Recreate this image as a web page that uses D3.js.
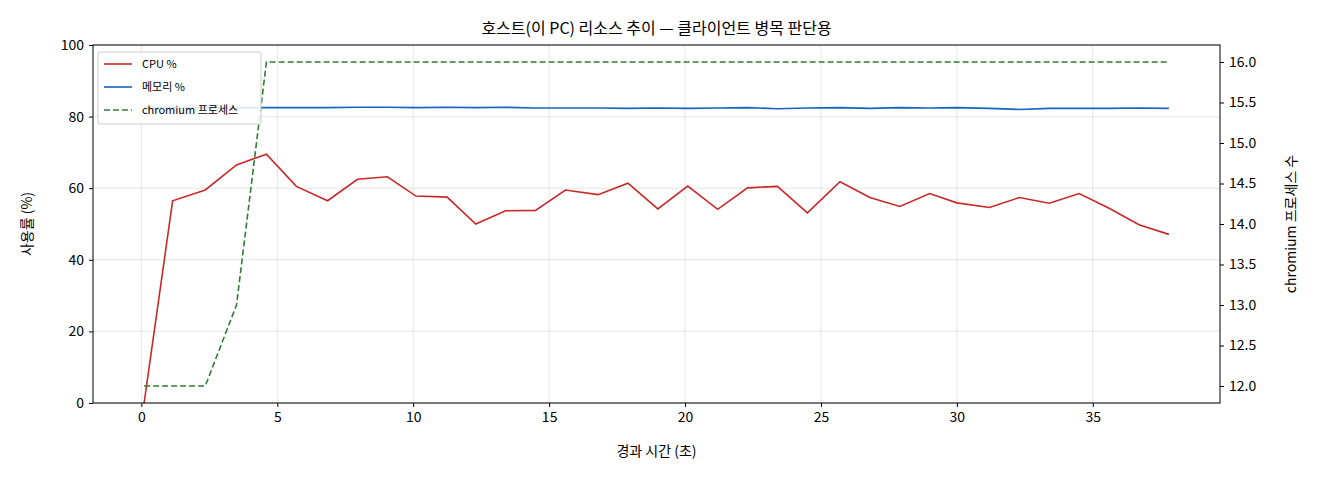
<!DOCTYPE html><html><head><meta charset="utf-8">
<script src="https://cdn.jsdelivr.net/npm/d3@7"></script>
<style>body{margin:0;background:#fff}text{font-family:"Noto Sans CJK KR","DejaVu Sans",sans-serif}</style></head><body>
<svg id="c" width="1320" height="480"></svg>
<script>
const times=[0.1,1.15,2.35,3.5,4.6,5.7,6.85,7.95,9.05,10.1,11.25,12.3,13.4,14.5,15.6,16.8,17.9,19.0,20.1,21.2,22.3,23.4,24.5,25.7,26.8,27.9,29.0,30.0,31.2,32.3,33.4,34.5,35.6,36.7,37.8];
const cpu=[0,56.5,59.5,66.5,69.5,60.5,56.5,62.5,63.2,57.8,57.5,50,53.7,53.8,59.5,58.2,61.4,54.2,60.6,54.1,60.1,60.5,53.1,61.8,57.4,54.9,58.5,55.9,54.6,57.4,55.8,58.5,54.4,49.8,47.1];
const mem=[82.5,82.5,82.5,82.5,82.5,82.5,82.5,82.6,82.6,82.5,82.6,82.5,82.6,82.4,82.4,82.4,82.3,82.4,82.3,82.4,82.5,82.2,82.4,82.5,82.3,82.5,82.4,82.5,82.3,82.0,82.3,82.3,82.3,82.4,82.3];
const procs=[12,12,12,13,16,16,16,16,16,16,16,16,16,16,16,16,16,16,16,16,16,16,16,16,16,16,16,16,16,16,16,16,16,16,16];
const xTicks=[0,5,10,15,20,25,30,35],yTicks=[0,20,40,60,80,100],y2Ticks=[12,12.5,13,13.5,14,14.5,15,15.5,16];
const L=93,R=1220,T=45,B=403;
const svg=d3.select("#c");
const x=d3.scaleLinear().domain([-1.78,39.68]).range([L,R]);
const y=d3.scaleLinear().domain([0,100]).range([B,T]);
const y2=d3.scaleLinear().domain([11.79,16.21]).range([B,T]);
const g=svg.append("g");
g.selectAll(".gx").data(xTicks).join("line").attr("x1",d=>x(d)).attr("x2",d=>x(d)).attr("y1",T).attr("y2",B).attr("stroke","#000").attr("stroke-opacity",0.1);
g.selectAll(".gy").data(yTicks).join("line").attr("y1",d=>y(d)).attr("y2",d=>y(d)).attr("x1",L).attr("x2",R).attr("stroke","#000").attr("stroke-opacity",0.1);
const ln=(ys,sc)=>d3.line().x((d,i)=>x(times[i])).y(d=>sc(d))(ys);
svg.append("path").attr("d",ln(cpu,y)).attr("fill","none").attr("stroke","#c62828").attr("stroke-width",1.6);
svg.append("path").attr("d",ln(mem,y)).attr("fill","none").attr("stroke","#1565c0").attr("stroke-width",1.6);
svg.append("path").attr("d",ln(procs,y2)).attr("fill","none").attr("stroke","#2e7d32").attr("stroke-width",1.6).attr("stroke-dasharray","6,3");
svg.append("rect").attr("x",L).attr("y",T).attr("width",R-L).attr("height",B-T).attr("fill","none").attr("stroke","#000").attr("stroke-width",1);
const ax=svg.append("g").attr("transform",`translate(0,${B})`).call(d3.axisBottom(x).tickValues(xTicks).tickSize(4).tickPadding(5));
const ay=svg.append("g").attr("transform",`translate(${L},0)`).call(d3.axisLeft(y).tickValues(yTicks).tickSize(4).tickPadding(5));
const ay2=svg.append("g").attr("transform",`translate(${R},0)`).call(d3.axisRight(y2).tickValues(y2Ticks).tickFormat(d3.format(".1f")).tickSize(4).tickPadding(5));
[ax,ay,ay2].forEach(a=>{a.select(".domain").remove();a.selectAll("text").attr("font-size",14).attr("fill","#000");});
svg.append("text").attr("x",(L+R)/2).attr("y",34).attr("text-anchor","middle").attr("font-size",16).text("호스트(이 PC) 리소스 추이 — 클라이언트 병목 판단용");
svg.append("text").attr("x",(L+R)/2).attr("y",456).attr("text-anchor","middle").attr("font-size",14).text("경과 시간 (초)");
svg.append("text").attr("transform",`translate(32,${(T+B)/2}) rotate(-90)`).attr("text-anchor","middle").attr("font-size",14).text("사용률 (%)");
svg.append("text").attr("transform",`translate(1296,${(T+B)/2}) rotate(-90)`).attr("text-anchor","middle").attr("font-size",14).text("chromium 프로세스 수");
const lg=svg.append("g").attr("transform","translate(98,52)");
lg.append("rect").attr("width",163).attr("height",72).attr("rx",2).attr("fill","#fff").attr("fill-opacity",0.85).attr("stroke","#ccc");
const items=[["CPU %","#c62828",null],["메모리 %","#1565c0",null],["chromium 프로세스","#2e7d32","6,3"]];
items.forEach((it,i)=>{const yy=12+i*23;
lg.append("line").attr("x1",6).attr("x2",34).attr("y1",yy).attr("y2",yy).attr("stroke",it[1]).attr("stroke-width",1.6).attr("stroke-dasharray",it[2]);
lg.append("text").attr("x",44).attr("y",yy+4).attr("font-size",11).text(it[0]);});
</script></body></html>
